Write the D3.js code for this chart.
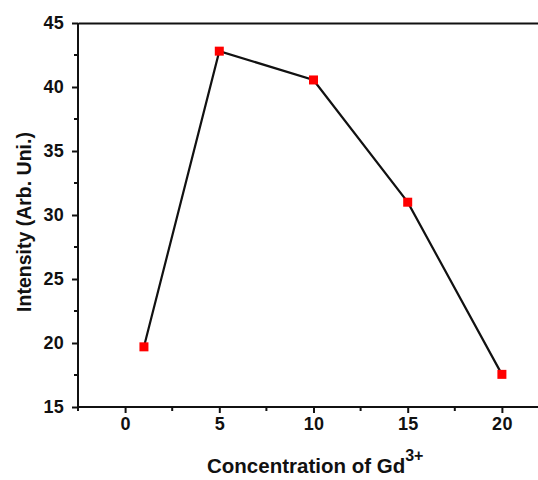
<!DOCTYPE html>
<html>
<head>
<meta charset="utf-8">
<script src="https://cdn.jsdelivr.net/npm/d3@7"></script>
<style>
html, body { margin: 0; padding: 0; background: #fff; }
svg { display: block; }
text { font-family: "Liberation Sans", Arial, sans-serif; font-weight: bold; fill: #111; }
</style>
</head>
<body>
<div id="chart"></div>
<script>
const concentrations = [1, 5, 10, 15, 20];
const intensities = [19.7, 42.8, 40.55, 31.0, 17.55];
const xTickValues = [0, 5, 10, 15, 20];
const yTickValues = [15, 20, 25, 30, 35, 40, 45];
const xLabel = "Concentration of Gd";
const xLabelSup = "3+";
const yLabel = "Intensity (Arb. Uni.)";

(function () {
const W = 538, H = 480;
const mLeft = 78, mTop = 23, mRight = 549, mBottom = 407;

const svg = d3.select("#chart").append("svg").attr("width", W).attr("height", H);

const x = d3.scaleLinear().domain([-2.5, 22.5]).range([mLeft, mRight]);
const y = d3.scaleLinear().domain([15, 45]).range([mBottom, mTop]);

const xMinor = d3.range(-2.5, 22.6, 2.5).filter(v => !xTickValues.includes(v));
const yMinor = d3.range(17.5, 45, 5);

const gx = svg.append("g").attr("transform", `translate(0,${mBottom})`)
  .call(d3.axisBottom(x).tickValues(xTickValues).tickSize(6).tickPadding(4).tickFormat(d3.format("d")));
gx.append("g").selectAll("line").data(xMinor).join("line")
  .attr("x1", d => x(d)).attr("x2", d => x(d)).attr("y1", 0).attr("y2", 4);

const gy = svg.append("g").attr("transform", `translate(${mLeft},0)`)
  .call(d3.axisLeft(y).tickValues(yTickValues).tickSize(6).tickPadding(8).tickFormat(d3.format("d")));
gy.append("g").selectAll("line").data(yMinor).join("line")
  .attr("x1", 0).attr("x2", -4).attr("y1", d => y(d)).attr("y2", d => y(d));

const gt = svg.append("g").attr("transform", `translate(0,${mTop})`)
  .call(d3.axisTop(x).tickValues([]).tickSizeOuter(0));
const gr = svg.append("g").attr("transform", `translate(${mRight},0)`)
  .call(d3.axisRight(y).tickValues([]).tickSizeOuter(0));

[gx, gy, gt, gr].forEach(g => {
  g.attr("font-size", 18).attr("font-family", "Liberation Sans, Arial, sans-serif");
  g.select(".domain").attr("stroke", "#111").attr("stroke-width", 2);
  g.selectAll("line").attr("stroke", "#111").attr("stroke-width", 2);
  g.selectAll(".tick text").attr("font-size", 18).attr("font-weight", "bold")
    .attr("fill", "#111").attr("letter-spacing", 0.3);
});
gx.select(".domain").attr("d", `M${mLeft},0H${mRight}`);
gy.select(".domain").attr("d", `M0,${mTop}V${mBottom}`);

const data = concentrations.map((c, i) => ({ c, v: intensities[i] }));

svg.append("path").datum(data)
  .attr("fill", "none").attr("stroke", "#111").attr("stroke-width", 2.2)
  .attr("d", d3.line().x(d => x(d.c)).y(d => y(d.v)));

const ms = 9;
svg.append("g").selectAll("rect").data(data).join("rect")
  .attr("x", d => x(d.c) - ms / 2).attr("y", d => y(d.v) - ms / 2)
  .attr("width", ms).attr("height", ms).attr("fill", "#ff0000");

const xt = svg.append("text").attr("x", 207).attr("y", 473)
  .attr("text-anchor", "start").attr("font-size", 20.5);
xt.append("tspan").text(xLabel);
xt.append("tspan").attr("dy", -12).attr("font-size", 16).text(xLabelSup);

svg.append("text").attr("transform", `translate(31,222) rotate(-90)`)
  .attr("text-anchor", "middle").attr("font-size", 19.5).text(yLabel);
})();
</script>
</body>
</html>
